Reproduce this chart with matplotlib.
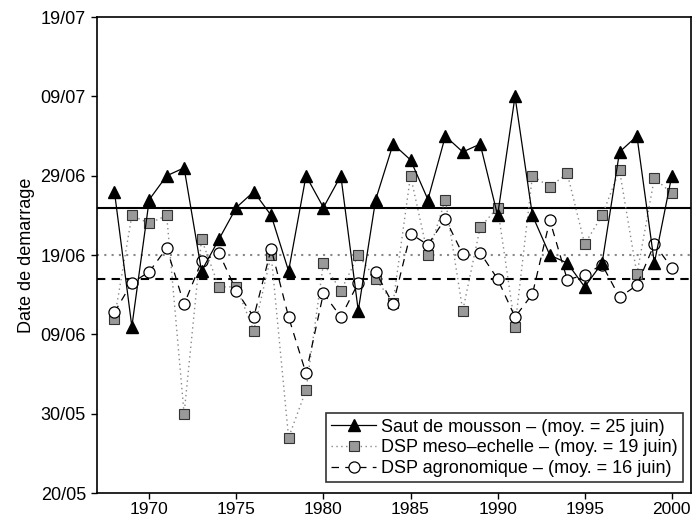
import numpy as np
import matplotlib.pyplot as plt
import datetime as dt

plt.rcParams['font.family'] = ['Liberation Sans', 'DejaVu Sans']

years = list(range(1968, 2001))

# days after 20 May
saut = [38, 21, 37, 40, 41, 28, 32, 36, 38, 35, 28, 40, 36, 40, 23, 37, 44,
        42, 37, 45, 43, 44, 35, 50, 35, 30, 29, 26, 29, 43, 45, 29, 40]
meso = [22, 35, 34, 35, 10, 32, 26, 26, 20.5, 30, 7, 13, 29, 25.5, 30, 27, 24,
        40, 30, 37, 23, 33.5, 36, 21, 40, 38.6, 40.3, 31.4, 35, 40.7, 27.6, 39.7, 37.8]
agro = [22.8, 26.5, 27.9, 30.9, 23.8, 29.2, 30.3, 25.5, 22.2, 30.8, 22.2, 15.1, 25.2,
        22.2, 26.5, 27.9, 23.8, 32.7, 31.3, 34.6, 30.1, 30.3, 27, 22.2, 25.1, 34.4,
        26.9, 27.5, 28.8, 24.7, 26.2, 31.4, 28.4]

mean_saut = 36
mean_meso = 30
mean_agro = 27

tick_days = [0, 10, 20, 30, 40, 50, 60]
start = dt.date(2000, 5, 20)
tick_labels = [(start + dt.timedelta(days=d)).strftime('%d/%m') for d in tick_days]

fig = plt.figure(figsize=(6.93, 5.17), dpi=100)
ax = fig.add_axes([0.140, 0.046, 0.857, 0.921])

ax.axhline(mean_saut, color='black', lw=1.5, zorder=1)
ax.axhline(mean_meso, color='#888888', lw=1.5, ls=(0, (1, 2.5)), zorder=1)
ax.axhline(mean_agro, color='black', lw=1.5, ls=(0, (4, 3)), zorder=1)

ax.plot(years, meso, ls=(0, (1, 2.5)), color='#888888', lw=1,
        marker='s', ms=6.5, mfc='#999999', mec='#333333', mew=0.8,
        label='DSP meso\u2013echelle \u2013 (moy. = 19 juin)', zorder=2)
ax.plot(years, agro, ls=(0, (6, 5)), color='black', lw=0.9,
        marker='o', ms=8, mfc='white', mec='black', mew=0.9,
        label='DSP agronomique \u2013 (moy. = 16 juin)', zorder=3)
ax.plot(years, saut, ls='-', color='black', lw=0.9,
        marker='^', ms=9, mfc='black', mec='black',
        label='Saut de mousson \u2013 (moy. = 25 juin)', zorder=4)

ax.set_xlim(1967, 2001.1)
ax.set_ylim(0, 60)
ax.set_xticks([1970, 1975, 1980, 1985, 1990, 1995, 2000])
ax.set_yticks(tick_days)
ax.set_yticklabels(tick_labels)
ax.tick_params(labelsize=13, direction='out', length=4.5, width=1)
ax.tick_params(axis='x', labelsize=12.5, pad=1.5)
ax.set_ylabel('Date de demarrage', fontsize=13)
for s in ax.spines.values():
    s.set_linewidth(1.2)

h, l = ax.get_legend_handles_labels()
order = [2, 0, 1]
leg = ax.legend([h[i] for i in order], [l[i] for i in order], loc='lower right',
                bbox_to_anchor=(0.9865, 0.023),
                fontsize=13, frameon=True, fancybox=False, edgecolor='black',
                handlelength=2.5, borderpad=0.3, labelspacing=0.2,
                handletextpad=0.25, borderaxespad=0)
leg.get_frame().set_linewidth(1.2)

fig.savefig('out.png', dpi=100)
